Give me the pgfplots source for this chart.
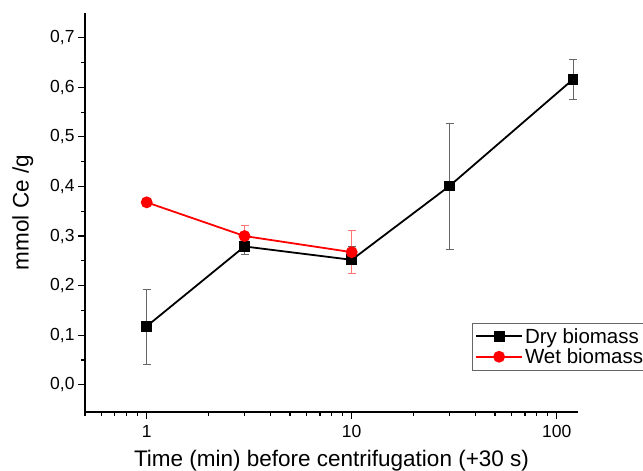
\documentclass[border=0pt]{standalone}
\usepackage{fontspec}
\setmainfont{Liberation Sans}
\usepackage{pgfplots}
\pgfplotsset{compat=1.18}

\pgfplotstableread{
x    y      ep     em
1    0.118  0.075  0.076
3    0.279  0.015  0.015
10   0.252  0.027  0.027
30   0.401  0.126  0.127
120  0.616  0.040  0.041
}\drydata

\pgfplotstableread{
x    y       ep      em
1    0.368   0       0
3    0.300   0.021   0.021
10   0.2675  0.0435  0.0435
}\wetdata

\begin{document}
\begin{tikzpicture}
\begin{semilogxaxis}[
  scale only axis, width=493pt, height=399pt,
  at={(0,0)}, anchor=south west,
  xmin=0.5, xmax=127, ymin=-0.055, ymax=0.75,
  axis x line*=bottom, axis y line*=left,
  axis line style={line width=1.3pt, -},
  xtick={1,10,100}, xticklabels={1,10,100},
  minor xtick={0.5,0.6,0.7,0.8,0.9,2,3,4,5,6,7,8,9,20,30,40,50,60,70,80,90},
  ytick={0,0.1,...,0.7}, minor y tick num=1,
  tick align=outside, xtick align=outside, ytick align=outside,
  major tick length=7pt, minor tick length=4pt,
  every tick/.style={black, line width=1.1pt},
  /pgf/number format/.cd, use comma, fixed, fixed zerofill, precision=1, assume math mode=true,
  /pgfplots/.cd,
  tick label style={font=\fontsize{17.5}{19}\selectfont},
  xticklabel style={yshift=-3pt},
  xlabel={Time (min) before centrifugation (+30 s)},
  ylabel={mmol Ce /g},
  label style={font=\fontsize{22.5}{24}\selectfont},
  xlabel style={yshift=-5pt},
  ylabel style={yshift=10pt},
  legend style={at={(0.785,0.223)}, anchor=north west, draw=black!60,
    font=\fontsize{20.5}{22}\selectfont, row sep=0pt, inner sep=3pt},
  legend cell align=left,
  legend image code/.code={\draw[mark repeat=2,mark phase=2] plot coordinates {(0pt,0pt) (23pt,0pt) (46pt,0pt)};},
]
\addplot[black, line width=1.8pt, mark=square*, mark size=4.5pt, mark options={solid},
  error bars/.cd, y dir=both, y explicit,
  error bar style={gray!80!black, line width=0.7pt},
  error mark options={rotate=90, mark size=4pt, gray!80!black, line width=0.7pt}]
  table[x=x, y=y, y error plus=ep, y error minus=em] {\drydata};
\addlegendentry{Dry biomass}
\addplot[red, line width=1.8pt, mark=*, mark size=5pt, mark options={solid},
  error bars/.cd, y dir=both, y explicit,
  error bar style={red!55, line width=0.8pt},
  error mark options={rotate=90, mark size=4pt, red!55, line width=0.8pt}]
  table[x=x, y=y, y error plus=ep, y error minus=em] {\wetdata};
\addlegendentry{Wet biomass}
\end{semilogxaxis}
\pgfresetboundingbox
\useasboundingbox (-85pt,-59pt) rectangle (558pt,412pt);
\end{tikzpicture}
\end{document}
